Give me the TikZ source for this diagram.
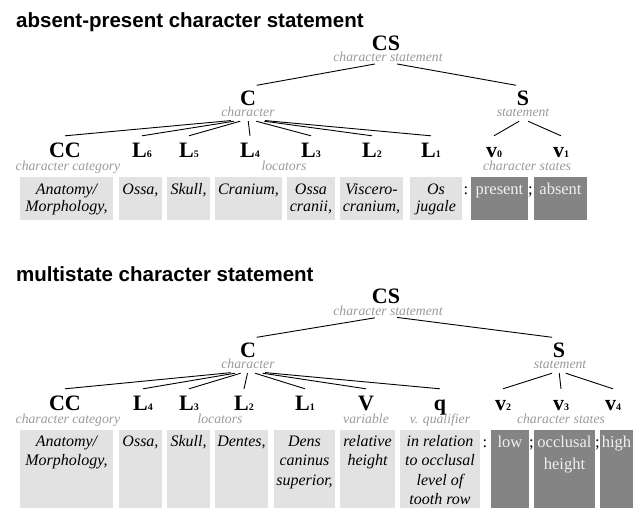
\documentclass[tikz,border=0pt]{standalone}
\usepackage{fontspec}
\setmainfont{Liberation Serif}
\setsansfont{Liberation Sans}

\definecolor{rolegray}{HTML}{9A9A9A}
\definecolor{lightbox}{HTML}{E2E2E2}
\definecolor{darkbox}{HTML}{848484}

\newcommand{\loc}[1]{L{\fontsize{10}{10}\selectfont #1}}
\newcommand{\stv}[1]{v{\fontsize{10}{10}\selectfont #1}}
% name, box style, x left, x right, y top, y bottom, text style, y of text, text
\newcommand{\cellbox}[9]{%
  \node[#2, anchor=north west, minimum width={#4-#3}, minimum height={#6-#5}] (#1) at (#3,#5) {};
  \node[#7, anchor=north] (#1t) at ({(#3+#4)/2},#8) {\strut #9};
}

\tikzset{
  heading/.style={font=\sffamily\bfseries\fontsize{20.5}{20.5}\selectfont, anchor=base west, inner sep=0pt},
  sym/.style={font=\bfseries\fontsize{22}{22}\selectfont, text height=15pt, text depth=0pt, inner sep=0.5pt, anchor=base},
  role/.style={font=\itshape\fontsize{13.7}{13.7}\selectfont, text=rolegray, inner sep=0.5pt, anchor=base},
  fork/.style={inner sep=0pt, minimum width=34pt, minimum height=4pt},
  branch/.style={draw, line width=0.9pt},
  lbox/.style={fill=lightbox, inner sep=0pt, outer sep=0pt},
  dbox/.style={fill=darkbox, inner sep=0pt, outer sep=0pt},
  ltext/.style={font=\itshape\fontsize{16}{17.5}\selectfont, align=center, inner sep=0pt},
  ltextb/.style={font=\itshape\fontsize{16}{19.5}\selectfont, align=center, inner sep=0pt},
  dtext/.style={font=\fontsize{16.5}{22.5}\selectfont, text=white!94!black, align=center, inner sep=0pt},
  punct/.style={font=\fontsize{16.5}{16.5}\selectfont, anchor=base, inner sep=0pt}
}

\begin{document}
\begin{tikzpicture}[x=1pt, y=-1pt]
\useasboundingbox (0,0) rectangle (635,509);

% ---------- absent-present ----------
\node[heading] (atitle) at (16,27) {absent-present character statement};

% Tree
\node[sym] (aCS) at (386,50) {CS};
\node[role] (aCSr) at (388,61) {character statement};
\node[fork, minimum width=22pt] (aCSfork) at (386,62) {};
\node[sym] (aC) at (248,105) {C};
\node[role] (aCr) at (248,116) {character};
\node[fork] (aCfork) at (248,119) {};
\node[sym] (aS) at (523,105) {S};
\node[role] (aSr) at (523,116) {statement};
\node[fork] (aSfork) at (523,119) {};

\node[sym] (aCC) at (65,157) {CC};
\node[sym] (aL6) at (142,157) {\loc{6}};
\node[sym] (aL5) at (189,157) {\loc{5}};
\node[sym] (aL4) at (250,157) {\loc{4}};
\node[sym] (aL3) at (311,157) {\loc{3}};
\node[sym] (aL2) at (372,157) {\loc{2}};
\node[sym] (aL1) at (431,157) {\loc{1}};
\node[sym] (av0) at (494,157) {\stv{0}};
\node[sym] (av1) at (561,157) {\stv{1}};

\node[role] (aCCr) at (68,170) {character category};
\node[role] (aLr) at (284,170) {locators};
\node[role] (avr) at (527,170) {character states};

\draw[branch] (aCSfork) -- ([yshift=4pt]aC.north east);
\draw[branch] (aCSfork) -- ([yshift=4pt]aS.north west);
\foreach \n in {CC,L6,L5,L4,L3,L2,L1}
  \draw[branch] (aCfork) -- ([yshift=5.5pt]a\n.north);
\foreach \n in {v0,v1}
  \draw[branch] (aSfork) -- ([yshift=5.5pt]a\n.north);

% Boxes
\cellbox{ab1}{lbox}{20}{113}{177}{220}{ltext}{182}{Anatomy/\\Morphology,}
\cellbox{ab2}{lbox}{119}{162}{177}{220}{ltext}{182}{Ossa,}
\cellbox{ab3}{lbox}{167}{210}{177}{220}{ltext}{182}{Skull,}
\cellbox{ab4}{lbox}{215}{282}{177}{220}{ltext}{182}{Cranium,}
\cellbox{ab5}{lbox}{287}{335}{177}{220}{ltext}{182}{Ossa\\cranii,}
\cellbox{ab6}{lbox}{340}{403}{177}{220}{ltext}{182}{Viscero-\\cranium,}
\cellbox{ab7}{lbox}{410}{462}{177}{220}{ltext}{182}{Os\\jugale}
\node[punct] (acolon) at (466,194) {:};
\cellbox{ab8}{dbox}{471}{528}{177}{220}{dtext}{178.25}{present}
\node[punct] (asemi) at (530.5,194) {;};
\cellbox{ab9}{dbox}{534}{587}{177}{220}{dtext}{178.25}{absent}

% ---------- multistate ----------
\node[heading] (mtitle) at (16,281) {multistate character statement};

% Tree
\node[sym] (mCS) at (386,303) {CS};
\node[role] (mCSr) at (388,315) {character statement};
\node[fork, minimum width=22pt] (mCSfork) at (386,316) {};
\node[sym] (mC) at (248,357) {C};
\node[role] (mCr) at (248,368) {character};
\node[fork] (mCfork) at (248,371) {};
\node[sym] (mS) at (559,357) {S};
\node[role] (mSr) at (560,368) {statement};
\node[fork] (mSfork) at (559,371) {};

\node[sym] (mCC) at (65,410) {CC};
\node[sym] (mL4) at (143,410) {\loc{4}};
\node[sym] (mL3) at (189,410) {\loc{3}};
\node[sym] (mL2) at (244,410) {\loc{2}};
\node[sym] (mL1) at (305,410) {\loc{1}};
\node[sym] (mV) at (366,410) {V};
\node[sym] (mq) at (440,410) {q};
\node[sym] (mv2) at (503,410) {\stv{2}};
\node[sym] (mv3) at (561,410) {\stv{3}};
\node[sym] (mv4) at (613,410) {\stv{4}};

\node[role] (mCCr) at (68,423) {character category};
\node[role] (mLr) at (220,423) {locators};
\node[role] (mVr) at (366,423) {variable};
\node[role] (mqr) at (440,423) {v. qualifier};
\node[role] (mvr) at (561,423) {character states};

\draw[branch] (mCSfork) -- ([yshift=4pt]mC.north east);
\draw[branch] (mCSfork) -- ([yshift=4pt]mS.north west);
\foreach \n in {CC,L4,L3,L2,L1,V,q}
  \draw[branch] (mCfork) -- ([yshift=5.5pt]m\n.north);
\foreach \n in {v2,v3,v4}
  \draw[branch] (mSfork) -- ([yshift=5.5pt]m\n.north);

% Boxes
\cellbox{mb1}{lbox}{20}{113}{430}{508}{ltextb}{432.5}{Anatomy/\\Morphology,}
\cellbox{mb2}{lbox}{119}{162}{430}{508}{ltextb}{432.5}{Ossa,}
\cellbox{mb3}{lbox}{167}{210}{430}{508}{ltextb}{432.5}{Skull,}
\cellbox{mb4}{lbox}{215}{268}{430}{508}{ltextb}{432.5}{Dentes,}
\cellbox{mb5}{lbox}{274}{335}{430}{508}{ltextb}{432.5}{Dens\\caninus\\superior,}
\cellbox{mb6}{lbox}{340}{395}{430}{508}{ltextb}{432.5}{relative\\height}
\cellbox{mb7}{lbox}{400}{480}{430}{508}{ltextb}{432.5}{in relation\\to occlusal\\level of\\tooth row}
\node[punct] (mcolon) at (485,447) {:};
\cellbox{mb8}{dbox}{491}{529}{430}{508}{dtext}{431.25}{low}
\node[punct] (msemi1) at (531.5,447) {;};
\cellbox{mb9}{dbox}{534}{595}{430}{508}{dtext}{431.25}{occlusal\\height}
\node[punct] (msemi2) at (597.5,447) {;};
\cellbox{mb10}{dbox}{600}{633}{430}{508}{dtext}{431.25}{high}
\end{tikzpicture}
\end{document}
